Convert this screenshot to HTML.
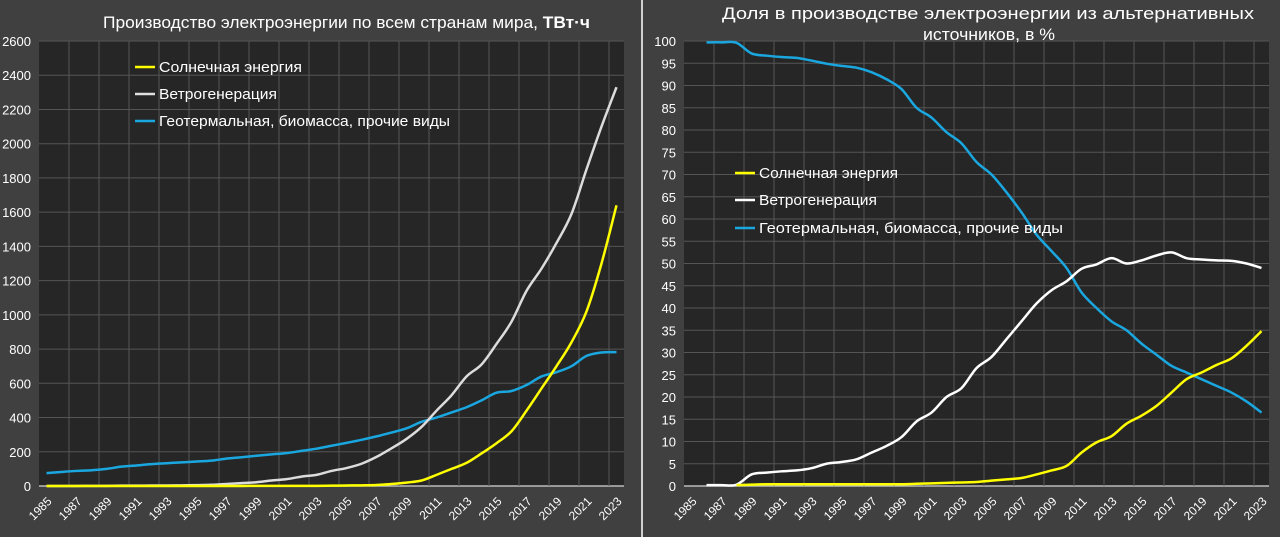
<!DOCTYPE html>
<html><head><meta charset="utf-8"><style>
html,body{margin:0;padding:0;background:#404040;}
svg{display:block;font-family:"Liberation Sans",sans-serif;}
</style></head><body>
<svg id="s" width="1280" height="537" viewBox="0 0 1280 537" xmlns="http://www.w3.org/2000/svg">
<rect width="1280" height="537" fill="#404040"/>
<line x1="642" y1="0" x2="642" y2="537" stroke="#d0d0d0" stroke-width="2"/>
<rect x="39" y="41" width="585" height="445" fill="#262626"/>
<rect x="684" y="41" width="585" height="445" fill="#262626"/>
<g id="g"></g>
<text x="103" y="28" fill="#fff" font-size="17" textLength="487" lengthAdjust="spacingAndGlyphs">Производство электроэнергии по всем странам мира, <tspan font-weight="bold">ТВт·ч</tspan></text>
<text x="722" y="19" fill="#fff" font-size="17" textLength="532" lengthAdjust="spacingAndGlyphs">Доля в производстве электроэнергии из альтернативных</text>
<text x="923" y="40" fill="#fff" font-size="17" textLength="132" lengthAdjust="spacingAndGlyphs">источников, в %</text>
<g font-size="15" fill="#fff">
<line x1="135" y1="67" x2="155" y2="67" stroke="#ffff00" stroke-width="2.5"/><text x="159" y="72" textLength="143" lengthAdjust="spacingAndGlyphs">Солнечная энергия</text>
<line x1="135" y1="94" x2="155" y2="94" stroke="#e0e0e0" stroke-width="2.5"/><text x="159" y="99" textLength="118" lengthAdjust="spacingAndGlyphs">Ветрогенерация</text>
<line x1="135" y1="121" x2="155" y2="121" stroke="#1aa7e0" stroke-width="2.5"/><text x="159" y="126" textLength="291" lengthAdjust="spacingAndGlyphs">Геотермальная, биомасса, прочие виды</text>
<line x1="735" y1="173" x2="755" y2="173" stroke="#ffff00" stroke-width="2.5"/><text x="759" y="178" textLength="139" lengthAdjust="spacingAndGlyphs">Солнечная энергия</text>
<line x1="735" y1="200" x2="755" y2="200" stroke="#ffffff" stroke-width="2.5"/><text x="759" y="205" textLength="118" lengthAdjust="spacingAndGlyphs">Ветрогенерация</text>
<line x1="735" y1="228" x2="755" y2="228" stroke="#1aa7e0" stroke-width="2.5"/><text x="759" y="233" textLength="304" lengthAdjust="spacingAndGlyphs">Геотермальная, биомасса, прочие виды</text>
</g>
</svg>
<script>
var NS="http://www.w3.org/2000/svg",g=document.getElementById("g");
function el(t,a,txt){var e=document.createElementNS(NS,t);for(var k in a)e.setAttribute(k,a[k]);if(txt!=null)e.textContent=txt;g.appendChild(e);return e;}
function chart(x0,top,bot,max,step,lblX,series){
  var h=bot-top;
  for(var v=0;v<=max;v+=step){var y=bot-v/max*h;
    el("line",{x1:x0,x2:x0+585,y1:y,y2:y,stroke:v==0?"#bbbbbb":"#555555","stroke-width":v==0?1.5:1});
    el("text",{x:lblX,y:y+5,fill:"#ffffff","font-size":13,"text-anchor":"end"},v);}
  for(var k=1;k<=19;k++){var x=x0+30*k;el("line",{x1:x,x2:x,y1:top,y2:bot,stroke:"#555555"});}
  for(var yr=1985;yr<=2023;yr+=2){var cx=x0+7.5+15*(yr-1985);
    el("text",{x:cx+6,y:bot+16,fill:"#ffffff","font-size":12,"text-anchor":"end",transform:"rotate(-45 "+(cx+6)+" "+(bot+16)+")"},yr);}
  series.forEach(function(s){
    var pts=s.d.map(function(v,i){return [x0+7.5+15*(s.s-1985+i),bot-v/max*h];});
    var d="M"+pts[0][0]+","+pts[0][1];
    for(var i=0;i<pts.length-1;i++){var p0=pts[i-1]||pts[i],p1=pts[i],p2=pts[i+1],p3=pts[i+2]||p2;
      d+=" C"+(p1[0]+(p2[0]-p0[0])/6)+","+(p1[1]+(p2[1]-p0[1])/6)+" "+(p2[0]-(p3[0]-p1[0])/6)+","+(p2[1]-(p3[1]-p1[1])/6)+" "+p2[0]+","+p2[1];}
    el("path",{d:d,fill:"none",stroke:s.c,"stroke-width":2.5,"stroke-linejoin":"round"});
  });
}
chart(39,41,486,2600,200,31,[
 {s:1985,c:"#1aa7e0",d:[75,82,88,92,100,113,120,128,133,138,143,148,160,168,177,185,192,205,218,235,252,270,290,312,337,375,400,430,460,500,545,555,590,640,665,700,760,780,782]},
 {s:1985,c:"#dcdcdc",d:[0,0,0,1,1,2,2,3,3,4,5,7,12,17,22,32,40,55,65,88,105,130,170,220,275,345,440,530,640,710,830,960,1140,1270,1420,1590,1850,2100,2330]},
 {s:1985,c:"#ffff00",d:[0,0,0,0,0,0,0,0,0,0,0,0,0,0,1,1,1,1,1,2,3,4,6,12,20,32,65,100,135,190,250,320,440,570,700,840,1020,1300,1640]}
]);
chart(684,41,486,100,5,676,[
 {s:1986,c:"#1aa7e0",d:[99.7,99.7,99.6,97.2,96.7,96.4,96.2,95.6,94.9,94.4,94.0,93.0,91.4,89.2,85,82.8,79.5,77,72.8,70,66,61.5,56.5,52.8,49,43.5,40,37,35,32,29.5,27,25.5,24,22.5,21,19,16.5]},
 {s:1986,c:"#ffffff",d:[0.2,0.2,0.3,2.6,3.0,3.3,3.5,4.0,5.0,5.4,6.0,7.5,9,11,14.5,16.5,20,22,26.5,29,33,37,41,44,46,48.8,49.8,51.2,50,50.7,51.8,52.5,51.2,50.9,50.7,50.6,50,49]},
 {s:1988,c:"#ffff00",d:[0.2,0.3,0.4,0.4,0.4,0.4,0.4,0.4,0.4,0.4,0.4,0.4,0.5,0.6,0.7,0.8,0.9,1.2,1.5,1.8,2.6,3.5,4.5,7.5,9.8,11.2,14,15.8,18,21,24,25.5,27.2,28.7,31.5,34.8]}
]);
</script>
</body></html>
